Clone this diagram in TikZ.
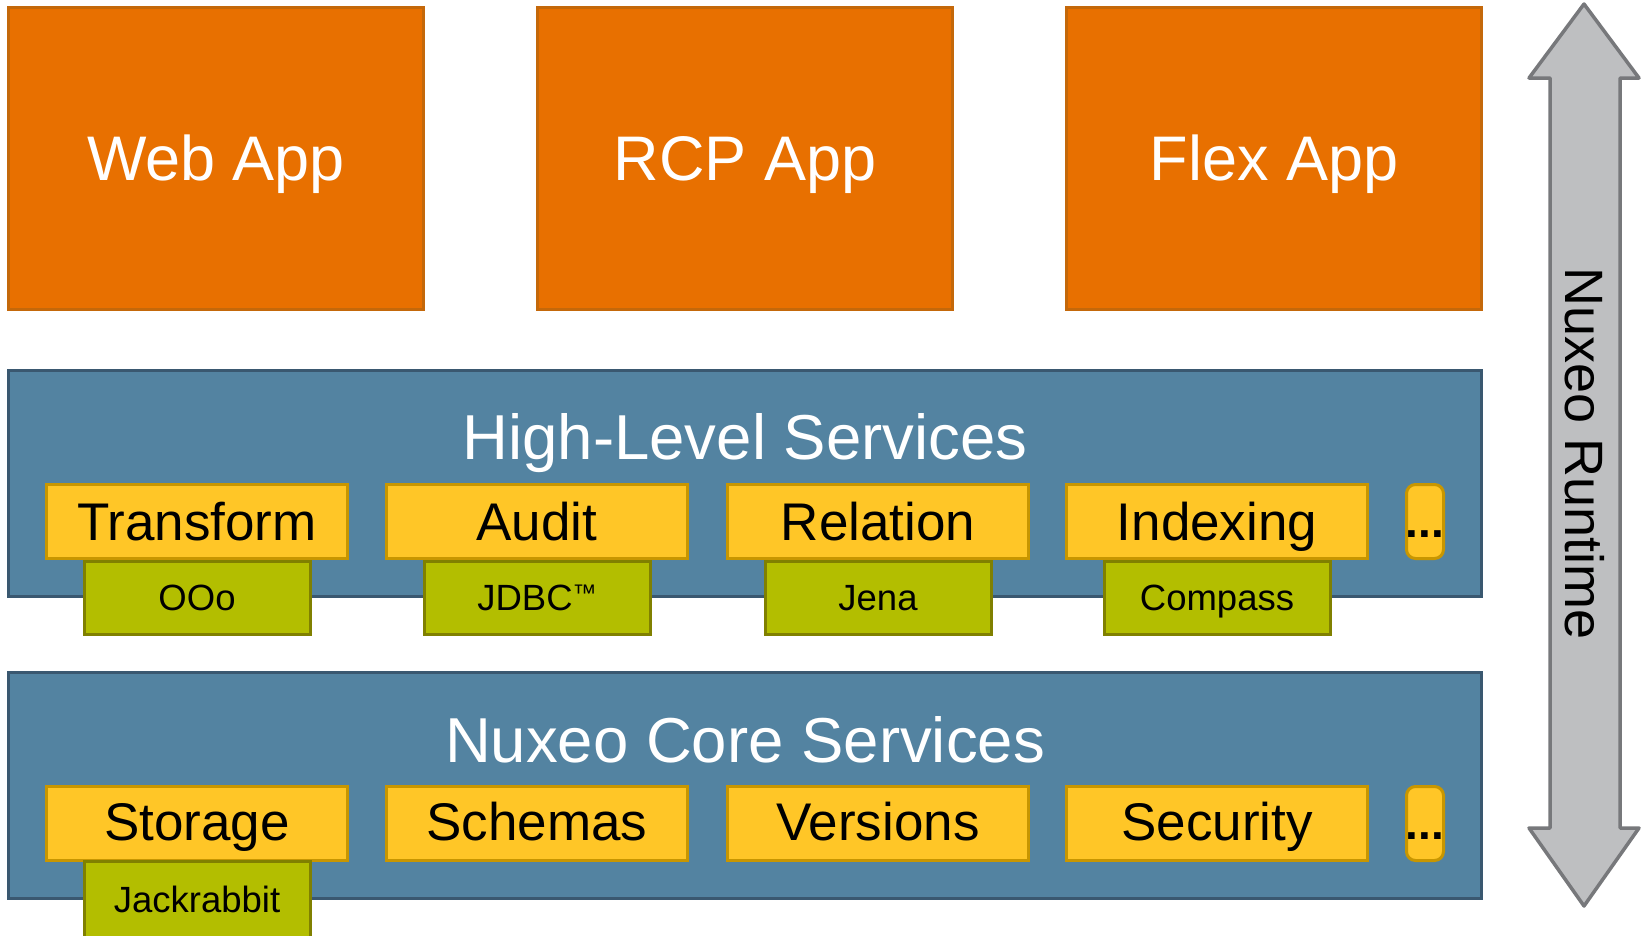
\documentclass[tikz,border=0pt]{standalone}
\usepackage{fontspec}
\setmainfont{Liberation Sans}
\definecolor{apporange}{RGB}{232,112,0}
\definecolor{appborder}{RGB}{196,104,10}
\definecolor{svcblue}{RGB}{83,131,161}
\definecolor{svcborder}{RGB}{58,88,112}
\definecolor{modyellow}{RGB}{255,198,39}
\definecolor{modborder}{RGB}{200,150,0}
\definecolor{libgreen}{RGB}{179,190,0}
\definecolor{libborder}{RGB}{128,128,0}
\definecolor{rtgray}{RGB}{190,191,193}
\definecolor{rtborder}{RGB}{119,120,123}
\begin{document}
\begin{tikzpicture}[x=1pt,y=-1pt,
  box/.style={rectangle, line width=3pt, inner sep=0pt, outer sep=0pt, anchor=north west},
  appbox/.style={box, draw=appborder, fill=apporange, minimum width=415pt, minimum height=302pt},
  layerbox/.style={box, draw=svcborder, fill=svcblue, minimum width=1473pt, minimum height=226pt},
  modbox/.style={box, draw=modborder, fill=modyellow, minimum width=301pt, minimum height=74pt},
  morebox/.style={box, draw=modborder, fill=modyellow, minimum width=37pt, minimum height=74pt, rounded corners=9pt},
  libbox/.style={box, draw=libborder, fill=libgreen, minimum width=226pt, minimum height=73pt},
  apptext/.style={text=white, font=\fontsize{63}{70}\selectfont, anchor=base, inner sep=0pt},
  titletext/.style={text=white, font=\fontsize{63.5}{70}\selectfont, anchor=base, inner sep=0pt},
  modtext/.style={text=black, font=\fontsize{53}{60}\selectfont, anchor=base, inner sep=0pt},
  moretext/.style={text=black, font=\fontsize{46}{50}\selectfont\bfseries, anchor=base, inner sep=0pt},
  libtext/.style={text=black, font=\fontsize{36.5}{40}\selectfont, anchor=base, inner sep=0pt},
  rttext/.style={text=black, font=\fontsize{54}{60}\selectfont, rotate=-90, inner sep=0pt}
]
\clip (0,0) rectangle (1642,935);
\fill[white] (0,0) rectangle (1642,935);

% Applications
\node[appbox] (web) at (8.5,7.5) {};
\node[appbox] (rcp) at (537.5,7.5) {};
\node[appbox] (flex) at (1066.5,7.5) {};
\node[apptext] (webT) at (216,180) {Web App};
\node[apptext] (rcpT) at (745,180) {RCP App};
\node[apptext] (flexT) at (1274,180) {Flex App};

% High-level services layer
\node[layerbox] (hl) at (8.5,370.5) {};
\node[titletext] (hlT) at (745,459) {High-Level Services};
\node[modbox] (transform) at (46.5,484.5) {};
\node[modbox] (audit) at (386.5,484.5) {};
\node[modbox] (relation) at (727.5,484.5) {};
\node[modbox] (indexing) at (1066.5,484.5) {};
\node[morebox] (hlmore) at (1406.5,484.5) {};
\node[modtext] (transformT) at (197,540) {Transform};
\node[modtext] (auditT) at (537,540) {Audit};
\node[modtext] (relationT) at (878,540) {Relation};
\node[modtext] (indexingT) at (1217,540) {Indexing};
\node[moretext] (hlmoreT) at (1425,537) {...};
\node[libbox] (ooo) at (84,561.5) {};
\node[libbox] (jdbc) at (424,561.5) {};
\node[libbox] (jena) at (765,561.5) {};
\node[libbox] (compass) at (1104,561.5) {};
\node[libtext] (oooT) at (197,610) {OOo};
\node[libtext] (jdbcT) at (537,610) {JDBC\raisebox{9pt}{\fontsize{24}{24}\selectfont ™}};
\node[libtext] (jenaT) at (878,610) {Jena};
\node[libtext] (compassT) at (1217,610) {Compass};

% Core services layer
\node[layerbox] (core) at (8.5,672.5) {};
\node[titletext] (coreT) at (745,762) {Nuxeo Core Services};
\node[modbox] (storage) at (46.5,786.5) {};
\node[modbox] (schemas) at (386.5,786.5) {};
\node[modbox] (versions) at (727.5,786.5) {};
\node[modbox] (security) at (1066.5,786.5) {};
\node[morebox] (coremore) at (1406.5,786.5) {};
\node[modtext] (storageT) at (197,840) {Storage};
\node[modtext] (schemasT) at (537,840) {Schemas};
\node[modtext] (versionsT) at (878,840) {Versions};
\node[modtext] (securityT) at (1217,840) {Security};
\node[moretext] (coremoreT) at (1425,839) {...};
\node[libbox, minimum height=90pt] (jack) at (84,861.5) {};
\node[libtext] (jackT) at (197,912) {Jackrabbit};

% Runtime double arrow
\draw[draw=rtborder, fill=rtgray, line width=3.5pt, line join=round]
  (1584,4) -- (1639,78) -- (1620,78) -- (1620,828) -- (1639,828) -- (1584,906)
  -- (1529,828) -- (1550,828) -- (1550,78) -- (1529,78) -- cycle;
\node[rttext] (rt) at (1585,454) {Nuxeo Runtime};
\end{tikzpicture}
\end{document}
